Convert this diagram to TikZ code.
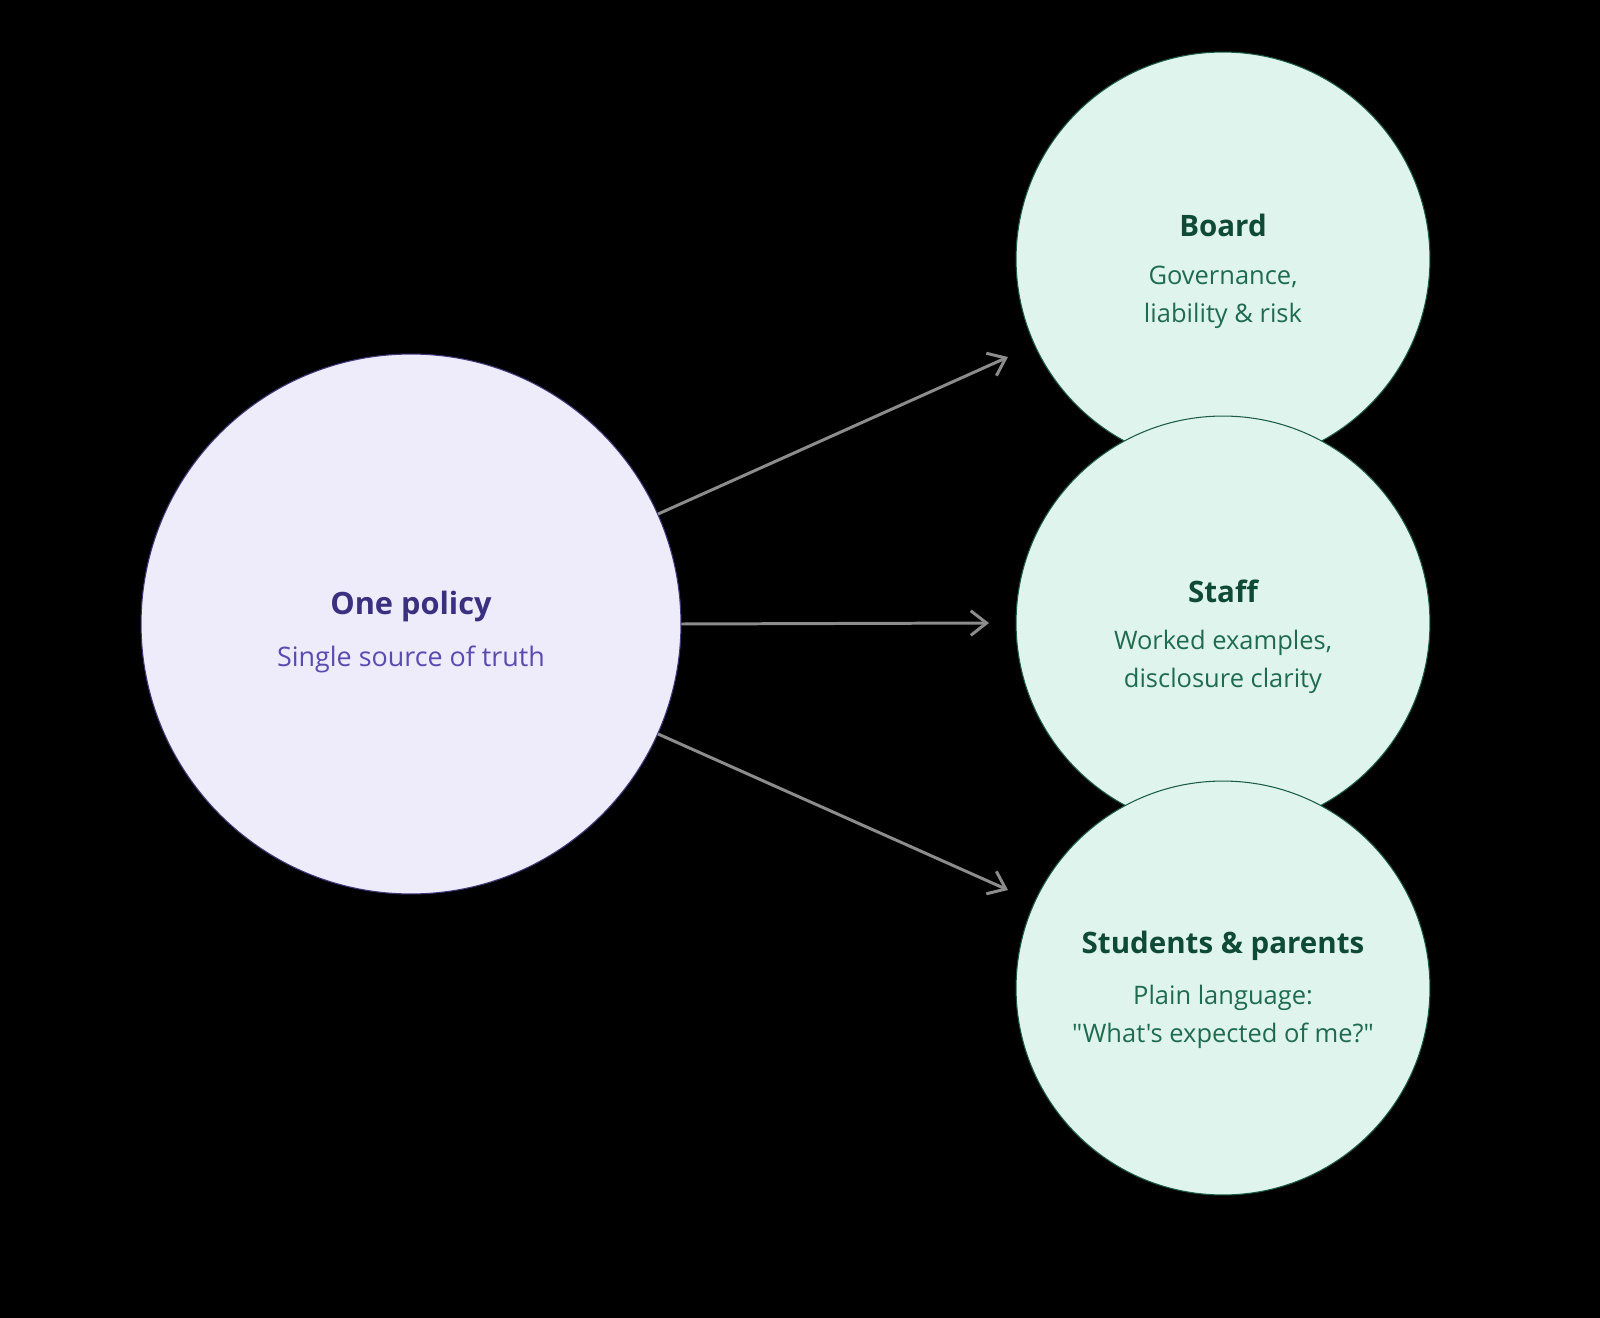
\documentclass[tikz,border=0pt]{standalone}
\usepackage{fontspec}
\setmainfont{Open Sans}
\newfontfamily\rawfont{Open Sans}
\usetikzlibrary{arrows.meta}
\definecolor{bgc}{HTML}{000000}
\definecolor{lfill}{HTML}{EEEBFB}
\definecolor{ldraw}{HTML}{3F3A7A}
\definecolor{ltitle}{HTML}{3B3080}
\definecolor{lsub}{HTML}{5A4BB0}
\definecolor{rfill}{HTML}{E0F4EE}
\definecolor{rdraw}{HTML}{1A5C45}
\definecolor{rtitle}{HTML}{0E4A36}
\definecolor{rsub}{HTML}{1E6B50}
\definecolor{arr}{HTML}{8C8C8C}
\tikzset{
  bigcirc/.style={circle, draw=ldraw, fill=lfill, line width=0.6pt, minimum size=10.8cm, inner sep=0pt},
  smallcirc/.style={circle, draw=rdraw, fill=rfill, line width=0.6pt, minimum size=8.28cm, inner sep=0pt},
  ltitlestyle/.style={text=ltitle, font=\fontsize{17.5}{21}\selectfont\bfseries, inner sep=0pt},
  lsubstyle/.style={text=lsub, font=\fontsize{15.3}{21.5}\selectfont, inner sep=0pt},
  rtitlestyle/.style={text=rtitle, font=\fontsize{16.8}{20}\selectfont\bfseries, inner sep=0pt},
  rsubstyle/.style={text=rsub, font=\fontsize{14.5}{21.5}\selectfont, align=center, inner sep=0pt},
  conn/.style={draw=arr, line width=1.7pt, -{Straight Barb[length=9pt,width=14pt,line width=1.7pt]}}
}
\begin{document}
\begin{tikzpicture}[x=0.02cm,y=-0.02cm]
\fill[bgc] (0,0) rectangle (1600,1318);
\useasboundingbox (0,0) rectangle (1600,1318);
\node[bigcirc] (policy) at (411,624) {};
\node[smallcirc] (board) at (1223,259) {};
\node[smallcirc] (staff) at (1223,623) {};
\node[smallcirc] (students) at (1223,988) {};
\node[ltitlestyle] (policyt) at (411,607) {One policy};
\node[lsubstyle] (policys) at (411,659) {Single source of truth};
\node[rtitlestyle] (boardt) at (1223,225) {Board};
\node[rsubstyle] (boards) at (1223,297) {Governance,\\liability \& risk};
\node[rtitlestyle] (stafft) at (1223,591) {Staff};
\node[rsubstyle] (staffs) at (1223,662) {Worked examples,\\disclosure clarity};
\node[rtitlestyle] (studentst) at (1223,946) {Students \& parents};
\node[rsubstyle] (studentss) at (1223,1017) {Plain language:\\{\rawfont "What's expected of me?"}};
\coordinate (e1) at (1008,357);
\coordinate (e2) at (989,623);
\coordinate (e3) at (1008,890);
\draw[conn] (policy.{24.3}) -- (e1);
\draw[conn] (policy.east) -- (e2);
\draw[conn] (policy.{-24.3}) -- (e3);
\end{tikzpicture}
\end{document}
